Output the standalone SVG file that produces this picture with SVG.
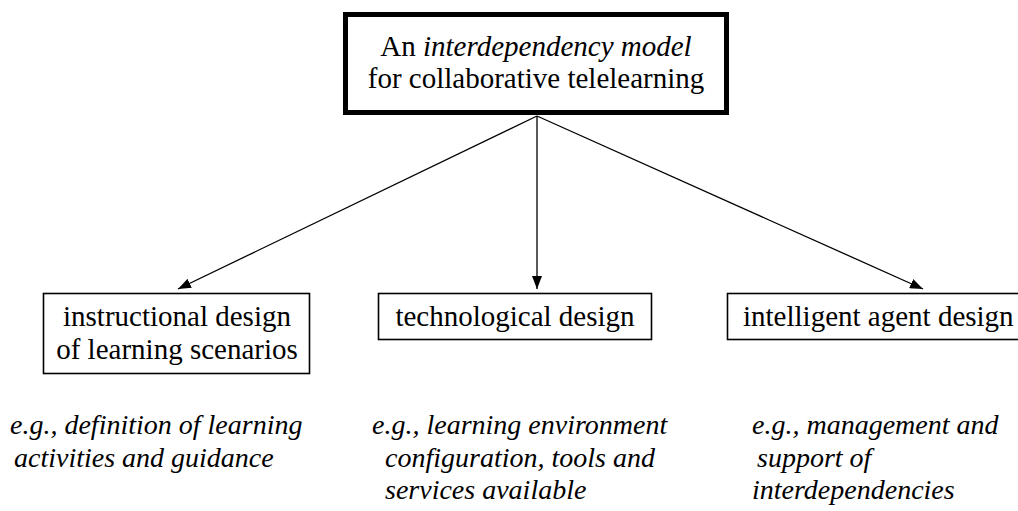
<svg xmlns="http://www.w3.org/2000/svg" width="1018" height="511" viewBox="0 0 1018 511">
<defs>
<marker id="ah" markerUnits="userSpaceOnUse" markerWidth="14" markerHeight="10" refX="13" refY="5" orient="auto">
<path d="M0,0 L13,5 L0,10 Z" fill="#000"/>
</marker>
</defs>
<rect width="1018" height="511" fill="#fff"/>
<g id="connectors" stroke="#000" stroke-width="1.3" fill="none">
<line x1="537" y1="116" x2="178" y2="289" marker-end="url(#ah)"/>
<line x1="537" y1="116" x2="537" y2="289" marker-end="url(#ah)"/>
<line x1="537" y1="116" x2="923" y2="289" marker-end="url(#ah)"/>
</g>
<g id="root">
<rect x="345.5" y="14.5" width="381" height="98" fill="#fff" stroke="#000" stroke-width="5"/>
<text x="536" y="56" text-anchor="middle" font-family="Liberation Serif" font-size="29">An <tspan font-style="italic">interdependency model</tspan></text>
<text x="536" y="88" text-anchor="middle" font-family="Liberation Serif" font-size="29">for collaborative telelearning</text>
</g>
<g id="instructional">
<rect x="43.5" y="293.5" width="266" height="80" fill="#fff" stroke="#000" stroke-width="1.6"/>
<text x="177" y="326" text-anchor="middle" font-family="Liberation Serif" font-size="29">instructional design</text>
<text x="177" y="359" text-anchor="middle" font-family="Liberation Serif" font-size="29">of learning scenarios</text>
</g>
<g id="technological">
<rect x="378.5" y="293.5" width="273" height="46" fill="#fff" stroke="#000" stroke-width="1.6"/>
<text x="515" y="326" text-anchor="middle" font-family="Liberation Serif" font-size="29">technological design</text>
</g>
<g id="agent">
<rect x="727.5" y="293.5" width="310" height="46" fill="#fff" stroke="#000" stroke-width="1.6"/>
<text x="743" y="326" font-family="Liberation Serif" font-size="29">intelligent agent design</text>
</g>
<g id="note1">
<text x="10" y="434" font-family="Liberation Serif" font-size="28" font-style="italic">e.g., definition of learning</text>
<text x="14" y="467" font-family="Liberation Serif" font-size="28" font-style="italic">activities and guidance</text>
</g>
<g id="note2">
<text x="372" y="434" font-family="Liberation Serif" font-size="28" font-style="italic">e.g., learning environment</text>
<text x="385" y="467" font-family="Liberation Serif" font-size="28" font-style="italic">configuration, tools and</text>
<text x="385" y="499" font-family="Liberation Serif" font-size="28" font-style="italic">services available</text>
</g>
<g id="note3">
<text x="752" y="434" font-family="Liberation Serif" font-size="28" font-style="italic">e.g., management and</text>
<text x="757" y="467" font-family="Liberation Serif" font-size="28" font-style="italic">support of</text>
<text x="752" y="499" font-family="Liberation Serif" font-size="28" font-style="italic">interdependencies</text>
</g>
</svg>
